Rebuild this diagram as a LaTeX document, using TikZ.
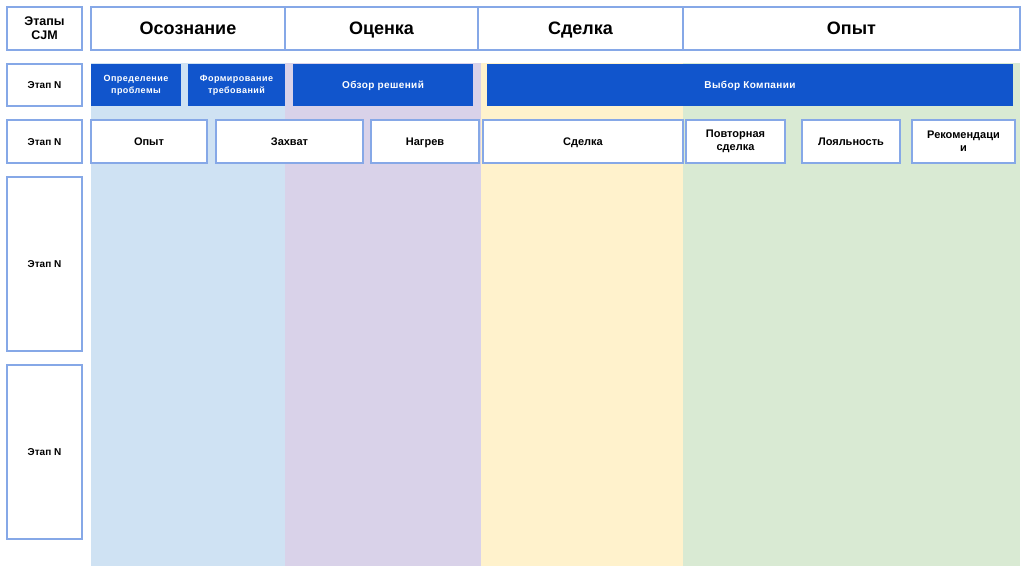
\documentclass[tikz,border=0pt]{standalone}
\usepackage{fontspec}
\setmainfont{Liberation Sans}
\definecolor{bord}{HTML}{86A8E7}
\definecolor{dblue}{HTML}{1155CC}
\definecolor{cblue}{HTML}{CFE2F3}
\definecolor{cpurple}{HTML}{D9D2E9}
\definecolor{cyellow}{HTML}{FFF2CC}
\definecolor{cgreen}{HTML}{D9EAD3}
\tikzset{
  box/.style={draw=bord, fill=white, line width=1.3pt, inner sep=1pt, outer sep=0pt, anchor=north west, align=center, font=\bfseries},
  hdr/.style={box, font=\bfseries\fontsize{18}{20}\selectfont, text height=12.9pt, text depth=0pt},
  lbl/.style={box, font=\bfseries\fontsize{10}{12}\selectfont},
  lblone/.style={lbl, text height=7.2pt, text depth=0pt},
  item/.style={box, font=\bfseries\fontsize{11}{13}\selectfont},
  itemone/.style={item, text height=7.9pt, text depth=0pt},
  bluebox/.style={fill=dblue, draw=none, inner sep=1pt, outer sep=0pt, anchor=north west, align=center, text=white, font=\bfseries\fontsize{10}{13}\selectfont\addfontfeature{LetterSpace=4}, text height=7.2pt, text depth=0pt},
  smallblue/.style={fill=dblue, draw=none, inner sep=1pt, outer sep=0pt, anchor=north west, align=center, text=white, font=\bfseries\fontsize{9}{12}\selectfont\addfontfeature{LetterSpace=5}},
  col/.style={draw=none, anchor=north west, inner sep=0pt, outer sep=0pt}
}
\begin{document}
\begin{tikzpicture}[x=1pt,y=-1pt]
\useasboundingbox (0,0) rectangle (1024,574);
\fill[white] (0,0) rectangle (1024,574);
% background columns
\node[col, fill=cblue, minimum width=194pt, minimum height=503pt] (bgA) at (91,63) {};
\node[col, fill=cpurple, minimum width=196pt, minimum height=503pt] (bgB) at (285,63) {};
\node[col, fill=cyellow, minimum width=202pt, minimum height=503pt] (bgC) at (481,63) {};
\node[col, fill=cgreen, minimum width=337pt, minimum height=503pt] (bgD) at (683,63) {};
% header row
\node[lbl, font=\bfseries\fontsize{12.5}{14}\selectfont, minimum width=75pt, minimum height=43pt] (cjm) at (7,7) {Этапы\\CJM};
\node[hdr, minimum width=194pt, minimum height=43pt] (h1) at (91,7) {Осознание};
\node[hdr, minimum width=193pt, minimum height=43pt] (h2) at (285,7) {Оценка};
\node[hdr, minimum width=205pt, minimum height=43pt] (h3) at (478,7) {Сделка};
\node[hdr, minimum width=337pt, minimum height=43pt] (h4) at (683,7) {Опыт};
% row 2
\node[lblone, minimum width=75pt, minimum height=42pt] (r2) at (7,64) {Этап N};
\node[smallblue, minimum width=90pt, minimum height=42pt] (b1) at (91,64) {Определение\\проблемы};
\node[smallblue, minimum width=97pt, minimum height=42pt] (b2) at (188,64) {Формирование\\требований};
\node[bluebox, minimum width=180pt, minimum height=42pt] (b3) at (293,64) {Обзор решений};
\node[bluebox, minimum width=526pt, minimum height=42pt] (b4) at (487,64) {Выбор Компании};
% row 3
\node[lblone, minimum width=75pt, minimum height=43pt] (r3) at (7,120) {Этап N};
\node[itemone, minimum width=116pt, minimum height=43pt] (i1) at (91,120) {Опыт};
\node[itemone, minimum width=147pt, minimum height=43pt] (i2) at (216,120) {Захват};
\node[itemone, minimum width=108pt, minimum height=43pt] (i3) at (371,120) {Нагрев};
\node[itemone, minimum width=200pt, minimum height=43pt] (i4) at (483,120) {Сделка};
\node[item, minimum width=99pt, minimum height=43pt] (i5) at (686,120) {Повторная\\сделка};
\node[itemone, minimum width=98pt, minimum height=43pt] (i6) at (802,120) {Лояльность};
\node[item, minimum width=103pt, minimum height=43pt] (i7) at (912,120) {Рекомендаци\\и};
% rows 4,5
\node[lblone, minimum width=75pt, minimum height=174pt] (r4) at (7,177) {Этап N};
\node[lblone, minimum width=75pt, minimum height=174pt] (r5) at (7,365) {Этап N};
\end{tikzpicture}
\end{document}
